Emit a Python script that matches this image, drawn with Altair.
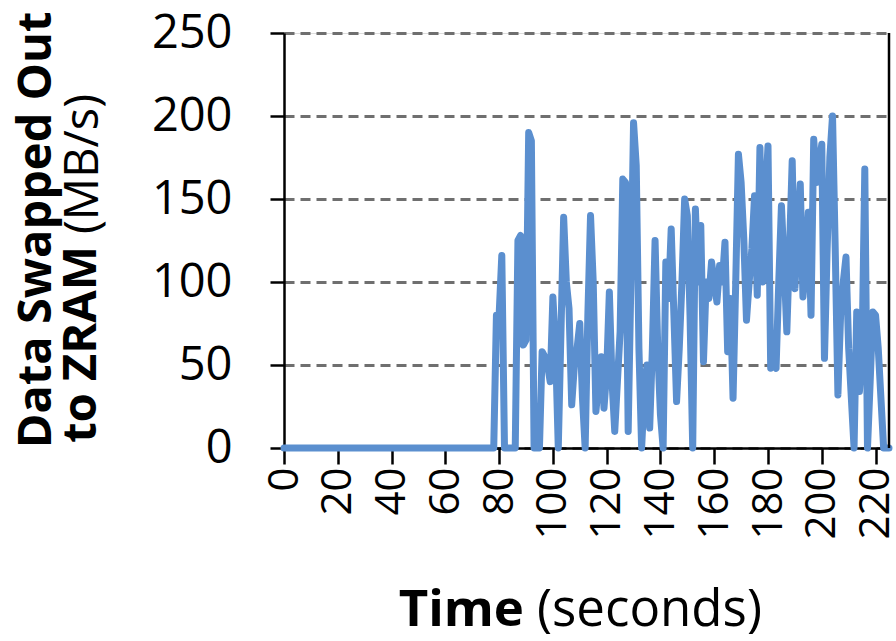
import altair as alt
import pandas as pd

# Time in seconds (idle segment 0..78 is flat at zero)
time_s = [0] + list(range(78, 226))
swap_mbs = [0,
    0, 80, 80, 116, 0, 0, 0, 0, 0, 125,          # 78-87
    128, 62, 65, 190, 185, 0, 0, 0, 58, 55,       # 88-97
    50, 40, 91, 60, 0, 70, 139, 100, 84, 26,      # 98-107
    50, 60, 75, 30, 0, 80, 140, 100, 22, 40,      # 108-117
    55, 24, 46, 94, 40, 10, 40, 70, 162, 160,     # 118-127
    10, 100, 196, 170, 60, 0, 34, 50, 12, 60,     # 128-137
    125, 60, 20, 0, 112, 90, 132, 80, 28, 60,     # 138-147
    100, 150, 140, 80, 0, 144, 100, 134, 52, 100, # 148-157
    90, 112, 100, 88, 110, 100, 124, 58, 90, 30,  # 158-167
    100, 177, 160, 126, 77, 100, 120, 152, 92, 181,  # 168-177
    100, 150, 182, 48, 50, 48, 100, 146, 110, 70,    # 178-187
    120, 173, 96, 130, 159, 91, 110, 142, 80, 186,   # 188-197
    160, 170, 183, 54, 120, 175, 200, 120, 32, 80,   # 198-207
    100, 115, 60, 30, 0, 82, 34, 60, 168, 0,         # 208-217
    40, 82, 80, 60, 30, 0, 0, 0                      # 218-225
]

x_ticks = [0, 20, 40, 60, 80, 100, 120, 140, 160, 180, 200, 220]
y_ticks = [0, 50, 100, 150, 200, 250]

df = pd.DataFrame({"t": time_s, "v": swap_mbs})

FONT = "Open Sans"
W, H = 605, 415
PAD_L, PAD_T = 284, 33

xscale = alt.Scale(domain=[0, 225], nice=False, zero=False)
yscale = alt.Scale(domain=[0, 250], nice=False)

line = alt.Chart(df).mark_line(
    color="#5B8FCF", strokeWidth=7, strokeJoin="round", strokeCap="round"
).encode(
    x=alt.X("t:Q", scale=xscale, axis=alt.Axis(
        values=x_ticks, labelAngle=270, labelFont=FONT, labelFontSize=42,
        labelColor="black", labelPadding=3, grid=False,
        domainColor="black", domainWidth=2.5, tickColor="black",
        tickWidth=2.5, tickSize=16, title=None)),
    y=alt.Y("v:Q", scale=yscale, axis=alt.Axis(
        values=y_ticks, labelFont=FONT, labelFontSize=47, labelColor="black",
        labelPadding=38, grid=True, gridColor="#6f6f6f", gridDash=[10, 6],
        gridWidth=3, domainColor="black", domainWidth=2.5, tickColor="black",
        tickWidth=2.5, tickSize=14, title=None)),
)

border = alt.Chart(pd.DataFrame({"a": [0]})).mark_rule(
    color="black", strokeWidth=2.5
).encode(x=alt.datum(225), y=alt.datum(0), y2=alt.datum(250))

one = pd.DataFrame({"a": [0]})

def txt(s, x, y, bold, align, size, angle=0, baseline="alphabetic"):
    return alt.Chart(one).mark_text(
        text=s, font=FONT, fontSize=size, fontWeight="bold" if bold else "normal",
        color="black", align=align, angle=angle, baseline=baseline
    ).encode(x=alt.value(x - PAD_L), y=alt.value(y - PAD_T))

titles = [
    txt("Time", 524, 626, True, "right", 51),
    txt("(seconds)", 537, 626, False, "left", 51),
    txt("Data Swapped Out", 37, 230, True, "center", 47, 270, "middle"),
    txt("to ZRAM", 82, 246, True, "right", 47, 270, "middle"),
    txt("(MB/s)", 84, 234, False, "left", 47, 270, "middle"),
]

chart = alt.layer(line, border, *titles).properties(
    width=W, height=H,
    autosize=alt.AutoSizeParams(type="none"),
    padding={"left": PAD_L, "top": PAD_T, "right": 896 - PAD_L - W, "bottom": 641 - PAD_T - H},
).configure_view(stroke=None).configure(background="white")

chart.save("out.html", embed_options={"renderer": "svg", "actions": False})
